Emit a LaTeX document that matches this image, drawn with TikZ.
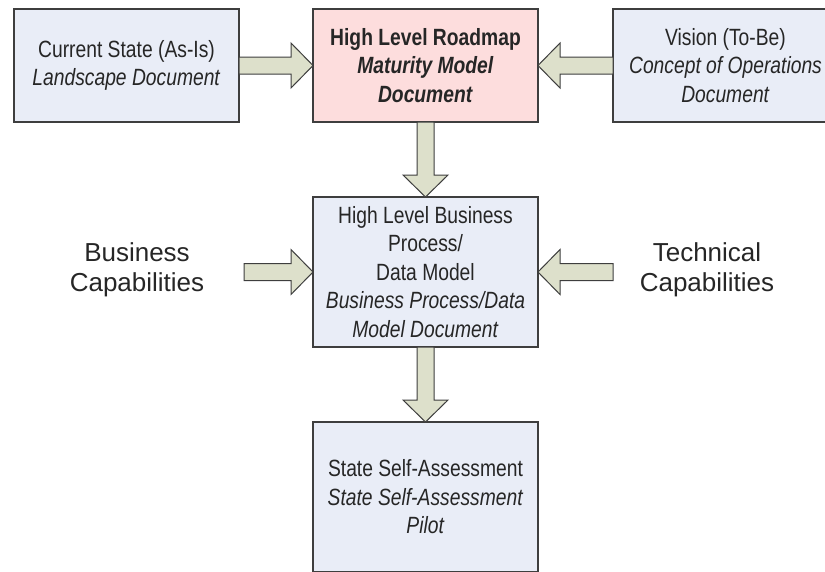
\documentclass[tikz,border=0pt]{standalone}
\usepackage{fontspec}
\setmainfont{Liberation Sans}
\newfontfamily\narrowfont[FakeStretch=0.82]{Liberation Sans}
\usetikzlibrary{calc}

\definecolor{boxblue}{RGB}{233,237,247}
\definecolor{boxpink}{RGB}{253,221,221}
\definecolor{arrowfill}{RGB}{221,224,203}
\definecolor{edgegray}{RGB}{62,62,62}
\definecolor{textgray}{RGB}{38,38,38}

% Block arrow from #1 (tail) to #2 (tip)
\newcommand{\blockarrow}[2]{%
  \path ($(#2)!22pt!(#1)$) coordinate (ba-base);
  \draw[blockarrow]
    ($(#1)!8.5pt!90:(#2)$) -- ($(ba-base)!8.5pt!-90:(#1)$)
    -- ($(ba-base)!22.5pt!-90:(#1)$) -- (#2)
    -- ($(ba-base)!22.5pt!90:(#1)$) -- ($(ba-base)!8.5pt!90:(#1)$)
    -- ($(#1)!8.5pt!-90:(#2)$) -- cycle;
}

\begin{document}
\begin{tikzpicture}[x=1pt,y=-1pt,
  box/.style={draw=edgegray, line width=1.5pt, rectangle, minimum width=225pt,
    inner sep=0pt, outer sep=0pt, align=center, text=textgray,
    font=\narrowfont\fontsize{23.5}{28.5}\selectfont},
  bluebox/.style={box, fill=boxblue},
  pinkbox/.style={box, fill=boxpink},
  sidelabel/.style={align=center, text=textgray, inner sep=0pt,
    font=\fontsize{26}{30}\selectfont},
  blockarrow/.style={draw=edgegray, fill=arrowfill, line width=1pt, line join=miter}]

\useasboundingbox (0,0) rectangle (825,571);

% Top row
\node[bluebox, minimum height=113pt] (current) at (126.5,65.5)
  {Current State (As-Is)\\\textit{Landscape Document}};
\node[pinkbox, minimum height=113pt] (roadmap) at (425.5,65.5)
  {\textbf{High Level Roadmap}\\\textbf{\textit{Maturity Model}}\\\textbf{\textit{Document}}};
\node[bluebox, minimum height=113pt] (vision) at (725.5,65.5)
  {Vision (To-Be)\\\textit{Concept of Operations}\\\textit{Document}};

% Middle row
\node[bluebox, minimum height=150pt] (process) at (425.5,272)
  {High Level Business\\Process/\\Data Model\\\textit{Business Process/Data}\\\textit{Model Document}};
\node[sidelabel] (business) at (137,270) {Business\\Capabilities};
\node[sidelabel] (technical) at (707,270) {Technical\\Capabilities};
\coordinate (businessout) at (244,272);
\coordinate (technicalout) at (613,272);

% Bottom box
\node[bluebox, minimum height=150pt] (assess) at (425.5,497)
  {State Self-Assessment\\\textit{State Self-Assessment}\\\textit{Pilot}};

% Connectors
\blockarrow{current.east}{roadmap.west}
\blockarrow{vision.west}{roadmap.east}
\blockarrow{roadmap.south}{process.north}
\blockarrow{businessout}{process.west}
\blockarrow{technicalout}{process.east}
\blockarrow{process.south}{assess.north}

\end{tikzpicture}
\end{document}
